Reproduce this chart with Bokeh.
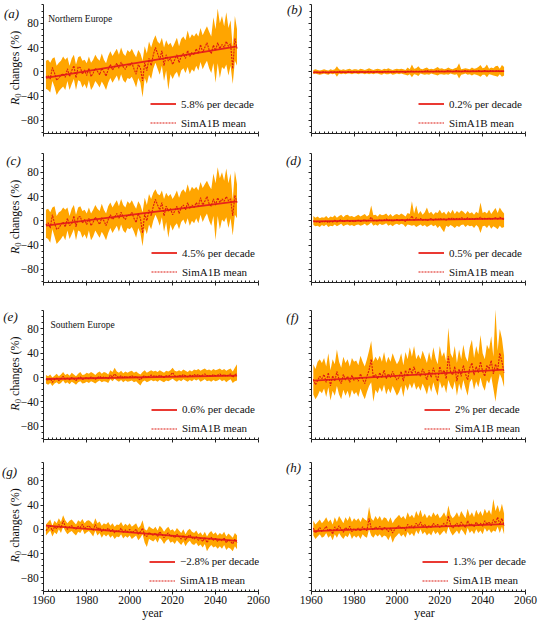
from math import pi
from bokeh.plotting import figure
from bokeh.layouts import gridplot
from bokeh.models import (Range1d, FixedTicker, Legend, LegendItem, Label,
                          CustomJSTickFormatter)
from bokeh.embed import file_html
from bokeh.resources import INLINE

FONT = "Liberation Serif"

# ---------------- data ----------------
years = list(range(1961, 2051))
trend_years = [1961, 2050]
x_ticks = [1960, 1980, 2000, 2020, 2040, 2060]
y_ticks = [-80, -40, 0, 40, 80]
y_tick_labels = ["\u221280", "\u221240", "0", "40", "80"]

# (a) Northern Europe
a_mean = [-9, -6, -12, 7, -2, -14, -10, -6, -3, -9,
          5, -8, 2, 10, -10, 8, 7, -4, 3, -6,
          6, -8, -2, 6, 1, -5, 6, 0, -7, 4,
          12, 3, 8, 14, 6, 16, 8, 4, 12, 10,
          15, 5, -4, 12, 6, -15, 15, 2, 22, 10,
          28, 40, 30, 20, 35, 10, 28, 18, 22, 12,
          20, 28, 15, 26, 30, 22, 35, 25, 32, 28,
          38, 30, 45, 32, 40, 48, 36, 30, 44, 35,
          48, 38, 45, 40, 50, 42, 46, 5, 55, 38]
a_upper = [18, 20, 15, 22, 24, 10, 15, 18, 25, 20,
           24, 10, 22, 28, 12, 24, 26, 18, 20, 14,
           25, 15, 20, 28, 22, 18, 30, 20, 14, 26,
           34, 26, 32, 38, 28, 40, 30, 26, 36, 32,
           38, 30, 24, 36, 30, 18, 42, 30, 50, 40,
           52, 60, 50, 46, 56, 40, 52, 44, 48, 40,
           48, 56, 42, 54, 58, 52, 68, 55, 62, 58,
           64, 58, 72, 60, 68, 75, 66, 58, 90, 70,
           104, 80, 92, 75, 98, 72, 85, 40, 92, 70]
a_lower = [-28, -30, -34, -15, -25, -38, -32, -28, -24, -30,
           -15, -30, -20, -12, -30, -14, -16, -26, -20, -28,
           -14, -30, -24, -15, -20, -26, -16, -22, -30, -18,
           -10, -18, -12, -6, -16, -4, -14, -18, -10, -12,
           -8, -16, -26, -10, -18, -42, -10, -20, -5, -12,
           5, 15, 5, -5, 10, -15, 2, -30, -4, -12,
           -4, 0, -10, 2, 6, -2, 8, -4, 4, 0,
           10, 2, 16, 4, 12, 18, 6, -2, 14, -18,
           14, -10, 8, 4, 12, -6, 10, -20, 18, 10]
a_trend = [-10, 42]

# (b)
b_mean = [-1, 0, -1, -2, -1, 0, -1, -2, 0, -1,
          0, -1, 1, -1, 0, -1, 0, 1, -1, 0,
          0, -1, 1, 0, -1, 0, 1, 0, -1, 0,
          1, 0, -1, 1, 0, 1, 0, -1, 0, 1,
          0, 1, 0, -1, 1, 0, 2, 0, 1, 0,
          1, 0, 1, 2, 0, 1, 0, 1, 2, 0,
          1, 0, 1, 2, 1, 0, 1, 2, 1, 0,
          1, 2, 1, 0, 2, 1, 1, 2, 0, 1,
          2, 1, 0, 2, 1, 1, 2, 0, 1, 1]
b_upper = [3, 4, 3, 2, 3, 4, 3, 2, 4, 3,
           4, 9, 4, 3, 4, 3, 4, 5, 3, 4,
           4, 3, 5, 4, 3, 4, 6, 4, 3, 4,
           5, 4, 3, 5, 4, 6, 4, 3, 4, 5,
           4, 5, 4, 3, 7, 4, 12, 5, 6, 9,
           5, 4, 6, 7, 4, 5, 4, 6, 8, 5,
           6, 4, 5, 7, 5, 4, 6, 7, 14, 4,
           5, 6, 5, 4, 7, 5, 6, 8, 11, 6,
           7, 12, 5, 7, 6, 9, 10, 5, 11, 8]
b_lower = [-4, -3, -4, -5, -4, -3, -4, -5, -3, -4,
           -3, -8, -3, -4, -3, -4, -3, -3, -4, -3,
           -3, -4, -3, -3, -4, -3, -4, -3, -4, -3,
           -3, -4, -5, -3, -4, -4, -3, -5, -4, -3,
           -4, -3, -4, -5, -6, -4, -9, -4, -5, -7,
           -3, -4, -5, -4, -5, -3, -4, -5, -6, -4,
           -4, -5, -4, -5, -3, -4, -5, -4, -11, -5,
           -4, -3, -5, -4, -6, -4, -5, -6, -8, -5,
           -5, -9, -4, -5, -6, -7, -8, -4, -8, -6]
b_trend = [-1, 1]

# (c)
c_mean = [-7, -3, -12, 10, -4, -14, -12, -6, -2, -10,
          4, -8, -5, 8, -10, 6, 7, -4, 2, -6,
          4, -8, -2, 6, 0, -6, 5, 0, -8, 2,
          10, 2, 6, 12, 4, 14, 6, 2, 10, 8,
          14, 4, -3, 12, 4, -20, 12, 0, 18, 8,
          24, 35, 26, 18, 30, 8, 24, 16, 20, 10,
          16, 24, 12, 22, 26, 18, 30, 20, 26, 22,
          30, 24, 38, 26, 32, 40, 28, 24, 36, 26,
          38, 30, 36, 32, 40, 33, 36, 8, 42, 30]
c_upper = [18, 20, 14, 22, 24, 8, 14, 16, 22, 18,
           22, 8, 20, 26, 10, 22, 24, 16, 18, 12,
           22, 12, 18, 26, 20, 16, 28, 18, 12, 24,
           30, 22, 28, 34, 24, 36, 26, 22, 32, 28,
           34, 26, 20, 32, 26, 14, 38, 26, 44, 36,
           46, 52, 44, 42, 50, 36, 46, 40, 44, 36,
           42, 50, 38, 48, 52, 46, 60, 48, 56, 52,
           56, 50, 64, 54, 60, 66, 58, 52, 78, 62,
           88, 70, 80, 66, 86, 62, 78, 34, 82, 60]
c_lower = [-28, -30, -36, -14, -26, -38, -34, -30, -24, -32,
           -16, -30, -22, -14, -32, -16, -18, -28, -22, -30,
           -16, -32, -26, -16, -22, -28, -18, -24, -32, -20,
           -12, -20, -14, -8, -18, -6, -16, -20, -12, -14,
           -10, -18, -28, -12, -20, -42, -12, -22, -6, -14,
           0, 10, 2, -8, 6, -18, -2, -28, -6, -16,
           -8, -4, -14, -2, 2, -6, 4, -8, 0, -4,
           4, -4, 10, -2, 6, 12, 0, -8, 8, -32,
           8, -14, 2, -2, 6, -12, 4, -24, 10, 4]
c_trend = [-8, 32]

# (d)
d_mean = [0, -2, -1, -3, -1, -2, 0, -3, -1, -2,
          1, -2, 0, 2, -2, 0, 1, -1, 0, -2,
          0, 1, -1, 0, 2, -1, 1, 6, 0, 1,
          -1, 2, 0, 1, 3, 0, 2, -1, 1, 2,
          0, 2, 1, -1, 3, 2, 8, 1, 5, 2,
          4, 1, 3, 0, 2, 4, 1, 3, 2, 4,
          2, 3, 1, 4, 3, 5, 2, 4, 3, 5,
          4, 2, 5, 3, 4, 2, 5, 3, 6, 3,
          4, 3, 5, 2, 4, 5, 3, 6, 4, 2]
d_upper = [8, 5, 7, 4, 6, 5, 8, 4, 7, 6,
           9, 5, 8, 10, 6, 9, 10, 7, 8, 6,
           8, 10, 7, 9, 11, 7, 10, 25, 9, 10,
           7, 11, 9, 10, 12, 8, 11, 7, 10, 11,
           9, 12, 10, 7, 13, 11, 32, 12, 25, 11,
           16, 10, 14, 22, 12, 15, 10, 14, 13, 18,
           12, 15, 10, 16, 12, 18, 11, 16, 13, 17,
           15, 11, 16, 12, 14, 10, 15, 12, 30, 13,
           15, 12, 18, 11, 16, 21, 13, 22, 16, 12]
d_lower = [-7, -9, -8, -10, -7, -9, -6, -10, -8, -9,
           -6, -9, -7, -5, -9, -7, -6, -8, -7, -9,
           -7, -6, -8, -7, -5, -8, -6, -3, -8, -6,
           -8, -5, -7, -6, -4, -8, -6, -9, -6, -5,
           -7, -5, -6, -10, -6, -7, -8, -7, -10, -8,
           -6, -9, -7, -10, -8, -6, -9, -7, -12, -8,
           -14, -19, -8, -10, -7, -9, -12, -8, -10, -7,
           -6, -10, -7, -9, -8, -12, -7, -10, -20, -9,
           -8, -12, -7, -13, -9, -11, -14, -8, -12, -10]
d_trend = [-1, 3.5]

# (e) Southern Europe
e_mean = [-3, -5, -2, -8, -3, -1, -5, -2, 2, -3,
          -1, -4, 0, -2, -5, -1, 1, -3, -2, 0,
          -2, 1, -1, -3, 0, 2, -1, 1, 0, -2,
          4, 1, 6, 2, 0, 3, -1, 2, 0, 1,
          3, 0, 2, -2, -4, 1, 3, 0, 2, 4,
          2, 3, 1, 4, 2, 0, 3, 2, 4, 8,
          3, 1, 4, 2, 5, 3, 1, 4, 2, 5,
          3, 5, 2, 4, 6, 3, 4, 2, 5, 3,
          4, 6, 3, 5, 2, 4, 6, 0, 5, 6]
e_upper = [4, 2, 5, 0, 3, 6, 2, 5, 9, 4,
           6, 3, 8, 5, 2, 6, 9, 4, 5, 8,
           6, 9, 7, 4, 8, 10, 6, 9, 8, 5,
           12, 9, 16, 10, 8, 11, 7, 10, 8, 10,
           11, 8, 10, 7, 5, 9, 12, 8, 10, 12,
           10, 11, 9, 12, 10, 8, 11, 10, 12, 16,
           11, 10, 12, 10, 13, 11, 9, 12, 10, 13,
           12, 14, 11, 13, 15, 12, 13, 11, 14, 12,
           13, 15, 12, 14, 11, 13, 15, 10, 16, 22]
e_lower = [-10, -12, -9, -14, -10, -8, -11, -9, -5, -10,
           -8, -11, -7, -9, -12, -8, -6, -10, -9, -7,
           -9, -6, -8, -10, -7, -5, -8, -6, -7, -9,
           -3, -6, -2, -5, -7, -4, -8, -5, -7, -6,
           -5, -8, -6, -10, -13, -7, -5, -8, -6, -4,
           -6, -5, -7, -4, -6, -8, -5, -6, -4, -2,
           -5, -7, -4, -6, -3, -5, -7, -4, -6, -3,
           -5, -3, -7, -5, -3, -6, -5, -7, -4, -6,
           -5, -3, -6, -4, -8, -5, -3, -9, -6, -5]
e_trend = [-2.5, 3]

# (f)
f_mean = [-3, -12, -5, 2, -2, 5, -8, 8, -14, 3,
          -6, 10, -3, -10, 5, -4, 2, -8, 4, -5,
          0, -6, 6, -3, -10, 2, 12, 30, 0, 5,
          -2, 8, 0, 12, -2, 6, 0, 10, 2, -4,
          0, 10, -6, 12, 2, 16, 6, 18, 4, 10,
          2, 14, 6, -4, 12, 0, 16, 4, -6, 18,
          6, 12, -2, 35, 10, 4, 18, -6, 14, 2,
          20, 6, -4, 16, 24, 4, 18, 8, 26, 10,
          2, 20, 14, 28, 6, 22, 12, 40, 26, 8]
f_upper = [22, 14, 26, 30, 24, 32, 18, 40, 12, 30,
           22, 46, 26, 16, 34, 24, 30, 18, 32, 26,
           28, 20, 36, 26, 18, 30, 44, 60, 26, 34,
           28, 36, 26, 42, 24, 34, 26, 40, 30, 22,
           28, 40, 20, 42, 30, 50, 34, 52, 30, 38,
           30, 44, 34, 24, 42, 28, 50, 32, 22, 52,
           34, 42, 26, 82, 40, 32, 52, 24, 46, 30,
           54, 34, 26, 50, 62, 32, 52, 38, 70, 40,
           30, 54, 46, 68, 34, 112, 44, 80, 64, 36]
f_lower = [-28, -36, -30, -22, -26, -18, -32, -16, -38, -22,
           -30, -14, -28, -36, -20, -30, -22, -34, -20, -28,
           -24, -32, -18, -28, -36, -24, -14, -8, -40, -20,
           -26, -16, -24, -12, -28, -18, -26, -14, -22, -30,
           -24, -14, -32, -12, -22, -10, -18, -8, -20, -14,
           -22, -10, -18, -28, -12, -24, -8, -20, -30, -6,
           -18, -12, -26, -4, -14, -20, -6, -30, -10, -22,
           -4, -18, -30, -8, -2, -20, -6, -16, 0, -14,
           -22, -4, -10, 2, -18, -40, -12, 6, -2, -16]
f_trend = [-5, 13]

# (g)
g_mean = [-2, 2, 6, -3, 4, 1, 8, 2, 14, 5,
          0, 4, 6, 2, 0, 5, 3, 8, 1, 4,
          6, 2, -2, 8, 0, 3, -4, 1, -2, 2,
          -4, 0, -6, -2, -3, 2, -5, -1, -4, 0,
          -6, -3, 0, -8, -4, 2, -10, -12, -5, -8,
          -10, -6, -12, -4, -8, -14, -9, -6, -12, -10,
          -14, -8, -12, -16, -10, -18, -12, -9, -14, -16,
          -12, -18, -15, -20, -14, -22, -16, -13, -18, -15,
          -20, -16, -19, -14, -22, -17, -20, -24, -16, -22]
g_upper = [8, 12, 16, 6, 14, 10, 18, 12, 23, 15,
           10, 14, 16, 12, 8, 15, 12, 17, 10, 14,
           15, 12, 8, 18, 10, 13, 6, 10, 8, 12,
           6, 10, 4, 8, 7, 12, 5, 9, 6, 10,
           4, 7, 10, 2, 6, 15, 0, -2, 5, 2,
           0, 4, -2, 6, 2, -4, 1, 4, -2, 0,
           -4, 2, -2, -6, 0, -8, -2, 1, -4, -6,
           -2, -8, -5, -10, -4, -12, -6, -3, -8, -5,
           -10, -6, -9, -4, -12, -7, -10, -14, -6, -10]
g_lower = [-10, -6, -2, -12, -5, -8, 0, -6, 4, -3,
           -8, -5, -3, -7, -10, -4, -6, 0, -8, -5,
           -3, -7, -12, -2, -10, -6, -14, -8, -12, -8,
           -14, -10, -16, -12, -13, -8, -15, -11, -14, -10,
           -16, -13, -10, -18, -14, -8, -22, -29, -16, -18,
           -20, -16, -22, -14, -18, -24, -19, -16, -22, -20,
           -24, -18, -22, -26, -20, -28, -22, -19, -24, -26,
           -22, -28, -25, -30, -24, -36, -30, -26, -30, -28,
           -32, -28, -32, -26, -34, -30, -32, -36, -28, -33]
g_trend = [6, -19]

# (h)
h_mean = [2, -6, -2, 3, -4, 0, 5, -3, 1, -8,
          4, -2, 6, 0, -5, 3, -1, 5, -4, 1,
          -2, 2, -3, 4, 0, -2, 18, 2, -1, 4,
          0, 5, -2, 3, 1, -4, 2, -6, 0, 3,
          6, 1, 4, -2, 8, 3, 6, 2, 10, 5,
          12, 4, 8, 2, 6, 3, 10, 5, 8, 3,
          6, 10, 4, 22, 8, 2, 6, 10, 4, 12,
          7, 3, 14, 6, 9, 4, 12, 6, 10, 5,
          14, 8, 12, 6, 16, 10, 20, 8, 18, 6]
h_upper = [14, 8, 12, 16, 10, 14, 20, 12, 16, 8,
           20, 12, 22, 16, 10, 20, 14, 22, 12, 18,
           14, 18, 12, 20, 16, 14, 37, 18, 14, 22,
           16, 22, 14, 20, 18, 12, 20, 10, 16, 20,
           24, 18, 22, 16, 28, 20, 24, 18, 30, 22,
           32, 20, 26, 18, 24, 20, 28, 22, 26, 18,
           22, 28, 20, 39, 24, 18, 22, 28, 20, 30,
           24, 18, 34, 22, 28, 20, 32, 24, 30, 22,
           34, 26, 32, 24, 50, 30, 40, 28, 42, 26]
h_lower = [-10, -16, -12, -8, -14, -12, -6, -14, -10, -18,
           -8, -14, -6, -12, -16, -10, -13, -6, -16, -10,
           -14, -10, -16, -8, -12, -14, 0, -10, -14, -8,
           -12, -8, -14, -10, -12, -18, -10, -22, -14, -10,
           -6, -12, -8, -14, -4, -10, -6, -12, -2, -8,
           0, -8, -4, -10, -6, -10, -2, -8, -4, -10,
           -6, -2, -8, 4, -4, -10, -6, -2, -8, 0,
           -4, -10, 2, -6, -2, -8, 0, -6, -2, -8,
           2, -4, 0, -6, -2, -4, 4, -6, 4, -8]
h_trend = [-3, 8.6]

letters = ["(a)", "(b)", "(c)", "(d)", "(e)", "(f)", "(g)", "(h)"]
slope_labels = ["5.8% per decade", "0.2% per decade", "4.5% per decade",
                "0.5% per decade", "0.6% per decade", "2% per decade",
                "\u22122.8% per decade", "1.3% per decade"]
mean_label = "SimA1B mean"
regions = {0: "Northern Europe", 4: "Southern Europe"}
y_title_parts = ["R", "0", "changes (%)"]
x_title = "year"

series = [(a_mean, a_upper, a_lower, a_trend), (b_mean, b_upper, b_lower, b_trend),
          (c_mean, c_upper, c_lower, c_trend), (d_mean, d_upper, d_lower, d_trend),
          (e_mean, e_upper, e_lower, e_trend), (f_mean, f_upper, f_lower, f_trend),
          (g_mean, g_upper, g_lower, g_trend), (h_mean, h_upper, h_lower, h_trend)]

# ---------------- layout / style (page pixel geometry) ----------------
BAND = "#ffa500"
RED = "#e8231b"
RED_DOT = "#dd1a12"
YMIN, YMAX = -102, 110
COL_LEFT = [0, 270]
COL_W = [270, 268]
X1960 = [43.3, 310.7]
X2060 = [258.0, 525.0]
ROW_TOP = [0, 146, 302, 456]
ROW_H = [146, 156, 154, 164]
ZERO_Y = [71.3, 220.3, 377.0, 528.8]
SY = 24.3 / 40.0

LEGEND_PX = [150, 418, 151, 418, 151, 424, 149, 422]
LETTER_POS = [(11, 13), (294, 9), (13, 160), (293, 160),
              (10, 316), (292, 317), (9, 471), (293, 467)]
REGION_POS = {0: (47.7, 18.3), 4: (50, 324)}
YTITLE_X = 14
XTITLE_CX = [152, 424]
XTITLE_Y = 612
# advance (px) of "R" (italic, 12px), "0" (8.5px) and a space, along the rotated title
YT_R, YT_SUB, YT_SP, YT_TOTAL = 7.4, 4.3, 3.0, 74.5

blank = CustomJSTickFormatter(code="return ''")


def style_axes(p, show_x, show_y):
    for ax in (p.xaxis[0], p.yaxis[0]):
        ax.axis_line_color = "#222222"
        ax.axis_line_width = 1
        ax.major_tick_line_color = "#222222"
        ax.minor_tick_line_color = "#222222"
        ax.major_label_text_font = FONT
        ax.major_label_text_font_size = "11.5px"
        ax.major_label_text_color = "#111111"
        ax.major_label_standoff = 2
    xa, ya = p.xaxis[0], p.yaxis[0]
    xa.fixed_location = YMIN
    ya.fixed_location = 1960
    xa.bounds = (1960, 2060)
    ya.bounds = (YMIN, YMAX)
    xa.ticker = FixedTicker(ticks=x_ticks, minor_ticks=list(range(1960, 2061, 2)))
    xa.major_tick_in, xa.major_tick_out = 0, 3
    xa.minor_tick_in, xa.minor_tick_out = 2, 0
    ya.ticker = FixedTicker(ticks=y_ticks, minor_ticks=list(range(-100, 111, 10)))
    ya.major_tick_in, ya.major_tick_out = 0, 3
    ya.minor_tick_in, ya.minor_tick_out = 0, 2
    if show_y:
        ya.major_label_overrides = dict(zip(y_ticks, y_tick_labels))
    else:
        ya.formatter = blank
    if not show_x:
        xa.formatter = blank


def text_label(x, y, text, size, align="center", style="normal", angle=0.0):
    return Label(x=x, y=y, text=text, angle=angle,
                 text_font=FONT, text_font_style=style, text_font_size=size,
                 text_align=align, text_baseline="middle", text_color="#111111")


figs = []
for i, (mean, upper, lower, trend) in enumerate(series):
    r, c = divmod(i, 2)
    sx = (X2060[c] - X1960[c]) / 100.0
    x0 = 1960 - (X1960[c] - COL_LEFT[c]) / sx
    x1 = 2060 + (COL_LEFT[c] + COL_W[c] - X2060[c]) / sx
    y1 = (ZERO_Y[r] - ROW_TOP[r]) / SY
    y0 = -(ROW_TOP[r] + ROW_H[r] - ZERO_Y[r]) / SY

    def dx(px, c=c, sx=sx):
        return 1960 + (px - X1960[c]) / sx

    def dy(py, r=r):
        return (ZERO_Y[r] - py) / SY

    p = figure(width=COL_W[c], height=ROW_H[r],
               x_range=Range1d(x0, x1), y_range=Range1d(y0, y1),
               output_backend="svg", toolbar_location=None,
               min_border=0, min_border_left=0, min_border_right=0,
               min_border_top=0, min_border_bottom=0)
    p.outline_line_color = None
    p.xgrid.visible = False
    p.ygrid.visible = False
    p.background_fill_color = "white"
    p.border_fill_color = "white"

    p.varea(x=years, y1=lower, y2=upper, fill_color=BAND, fill_alpha=1.0)
    tr = p.line(trend_years, trend, line_color=RED, line_width=1.8)
    mr = p.line(years, mean, line_color=RED_DOT, line_width=1.1, line_dash="2 1")

    style_axes(p, show_x=(r == 3), show_y=(c == 0))

    axis_y = ZERO_Y[r] - YMIN * SY
    legend = Legend(items=[LegendItem(label=slope_labels[i], renderers=[tr]),
                           LegendItem(label=mean_label, renderers=[mr])],
                    location=(LEGEND_PX[i] - COL_LEFT[c],
                              ROW_TOP[r] + ROW_H[r] - (axis_y - 1)),
                    orientation="vertical",
                    padding=0, margin=0, spacing=0,
                    glyph_width=26, glyph_height=19, label_height=19,
                    label_standoff=5, label_text_font=FONT,
                    label_text_font_size="11px", label_text_color="#111111",
                    border_line_color=None, background_fill_alpha=0)
    p.add_layout(legend)

    lx, ly = LETTER_POS[i]
    p.add_layout(text_label(dx(lx), dy(ly), letters[i], "13px", style="italic"))
    if i in regions:
        rx, ry = REGION_POS[i]
        p.add_layout(text_label(dx(rx), dy(ry), regions[i], "9.5px", align="left"))
    if c == 0:
        start = ZERO_Y[r] - 4 + YT_TOTAL / 2.0
        p.add_layout(text_label(dx(YTITLE_X), dy(start), y_title_parts[0], "12px",
                                align="left", style="italic", angle=pi / 2))
        p.add_layout(text_label(dx(YTITLE_X + 3.2), dy(start - YT_R), y_title_parts[1], "8.5px",
                                align="left", angle=pi / 2))
        p.add_layout(text_label(dx(YTITLE_X), dy(start - YT_R - YT_SUB - YT_SP),
                                y_title_parts[2], "12px", align="left", angle=pi / 2))
    if r == 3:
        p.add_layout(text_label(dx(XTITLE_CX[c]), dy(XTITLE_Y), x_title, "12px"))
    figs.append(p)

grid = gridplot([[figs[0], figs[1]], [figs[2], figs[3]],
                 [figs[4], figs[5]], [figs[6], figs[7]]], toolbar_location=None)

open("out.html", "w").write(file_html(grid, INLINE))
